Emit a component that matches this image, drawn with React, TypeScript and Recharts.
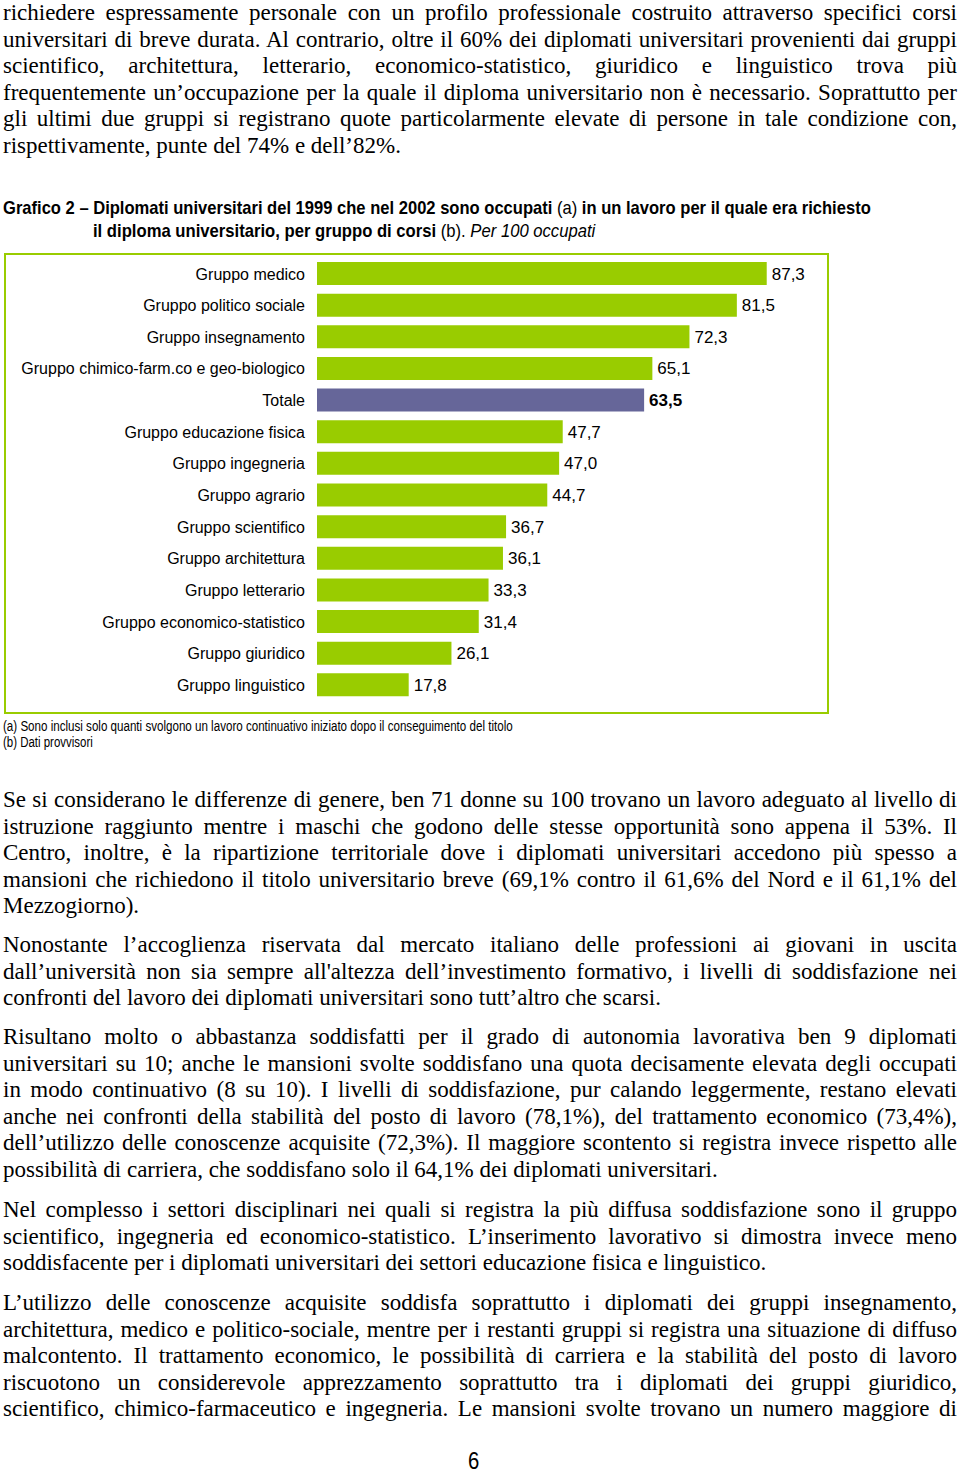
import { useLayoutEffect, useRef, useState } from 'react';
import { BarChart, Bar, XAxis, YAxis, Cell, LabelList } from 'recharts';

// Grafico 2 - diplomati occupati in un lavoro che richiedeva il diploma, per 100 occupati
const categories = [
  'Gruppo medico',
  'Gruppo politico sociale',
  'Gruppo insegnamento',
  'Gruppo chimico-farm.co e geo-biologico',
  'Totale',
  'Gruppo educazione fisica',
  'Gruppo ingegneria',
  'Gruppo agrario',
  'Gruppo scientifico',
  'Gruppo architettura',
  'Gruppo letterario',
  'Gruppo economico-statistico',
  'Gruppo giuridico',
  'Gruppo linguistico',
];
const values = [87.3, 81.5, 72.3, 65.1, 63.5, 47.7, 47.0, 44.7, 36.7, 36.1, 33.3, 31.4, 26.1, 17.8];
const totalName = 'Totale';

const GREEN = '#99CC00';
const PURPLE = '#666699';
const sans = '"Liberation Sans", Arial, sans-serif';
const serif = '"Liberation Serif", "Times New Roman", serif';

const para1 = [
  'richiedere espressamente personale con un profilo professionale costruito attraverso specifici corsi',
  'universitari di breve durata. Al contrario, oltre il 60% dei diplomati universitari provenienti dai gruppi',
  'scientifico, architettura, letterario, economico-statistico, giuridico e linguistico trova più',
  'frequentemente un’occupazione per la quale il diploma universitario non è necessario. Soprattutto per',
  'gli ultimi due gruppi si registrano quote particolarmente elevate di persone in tale condizione con,',
  'rispettivamente, punte del 74% e dell’82%.',
];
const para2 = [
  'Se si considerano le differenze di genere, ben 71 donne su 100 trovano un lavoro adeguato al livello di',
  'istruzione raggiunto mentre i maschi che godono delle stesse opportunità sono appena il 53%. Il',
  'Centro, inoltre, è la ripartizione territoriale dove i diplomati universitari accedono più spesso a',
  'mansioni che richiedono il titolo universitario breve (69,1% contro il 61,6% del Nord e il 61,1% del',
  'Mezzogiorno).',
];
const para3 = [
  'Nonostante l’accoglienza riservata dal mercato italiano delle professioni ai giovani in uscita',
  'dall’università non sia sempre all\'altezza dell’investimento formativo, i livelli di soddisfazione nei',
  'confronti del lavoro dei diplomati universitari sono tutt’altro che scarsi.',
];
const para4 = [
  'Risultano molto o abbastanza soddisfatti per il grado di autonomia lavorativa ben 9 diplomati',
  'universitari su 10; anche le mansioni svolte soddisfano una quota decisamente elevata degli occupati',
  'in modo continuativo (8 su 10). I livelli di soddisfazione, pur calando leggermente, restano elevati',
  'anche nei confronti della stabilità del posto di lavoro (78,1%), del trattamento economico (73,4%),',
  'dell’utilizzo delle conoscenze acquisite (72,3%). Il maggiore scontento si registra invece rispetto alle',
  'possibilità di carriera, che soddisfano solo il 64,1% dei diplomati universitari.',
];
const para5 = [
  'Nel complesso i settori disciplinari nei quali si registra la più diffusa soddisfazione sono il gruppo',
  'scientifico, ingegneria ed economico-statistico. L’inserimento lavorativo si dimostra invece meno',
  'soddisfacente per i diplomati universitari dei settori educazione fisica e linguistico.',
];
const para6 = [
  'L’utilizzo delle conoscenze acquisite soddisfa soprattutto i diplomati dei gruppi insegnamento,',
  'architettura, medico e politico-sociale, mentre per i restanti gruppi si registra una situazione di diffuso',
  'malcontento. Il trattamento economico, le possibilità di carriera e la stabilità del posto di lavoro',
  'riscuotono un considerevole apprezzamento soprattutto tra i diplomati dei gruppi giuridico,',
  'scientifico, chimico-farmaceutico e ingegneria. Le mansioni svolte trovano un numero maggiore di',
];

const data = categories.map((name, i) => ({ name, value: values[i] }));

// squeezes a line horizontally to a given width (narrow font look)
const FitLine = ({ width, style, children }: any) => {
  const ref = useRef<HTMLSpanElement>(null);
  const [k, setK] = useState(1);
  useLayoutEffect(() => {
    if (ref.current) setK(width / ref.current.offsetWidth);
  }, [width]);
  return (
    <div style={{ position: 'absolute', whiteSpace: 'nowrap', ...style }}>
      <span ref={ref} style={{ display: 'inline-block', transform: `scaleX(${k})`, transformOrigin: 'left center' }}>
        {children}
      </span>
    </div>
  );
};

const Para = ({ lines, top, justifyLast = false }: any) => (
  <div style={{ position: 'absolute', left: 3, top, width: 954, fontFamily: serif, fontSize: 23, lineHeight: '26.6px', color: '#000' }}>
    {lines.map((l: string, i: number) => {
      const last = i === lines.length - 1 && !justifyLast;
      return (
        <div key={i} style={{ textAlign: last ? 'left' : 'justify', textAlignLast: last ? 'left' : 'justify' }}>
          {l}
        </div>
      );
    })}
  </div>
);

const ValueLabel = (props: any) => {
  const { x, y, width, height, value, index } = props;
  const bold = categories[index] === totalName;
  return (
    <text
      x={x + width + 5}
      y={y + height / 2}
      dy="0.355em"
      fontSize={17}
      fontFamily={sans}
      fontWeight={bold ? 'bold' : 'normal'}
      fill="#000"
    >
      {Number(value).toFixed(1).replace('.', ',')}
    </text>
  );
};

export default function App() {
  return (
    <div style={{ position: 'absolute', left: 0, top: 0, width: 960, height: 1476, background: '#fff', overflow: 'hidden' }}>
      <Para lines={para1} top={0} />

      <FitLine width={868} style={{ left: 3, top: 196, fontFamily: sans, fontSize: 19, lineHeight: '23px', fontWeight: 'bold' }}>
        Grafico 2 – Diplomati universitari del 1999 che nel 2002 sono occupati <span style={{ fontWeight: 'normal' }}>(a)</span> in un lavoro per il quale era richiesto
      </FitLine>
      <FitLine width={502} style={{ left: 93, top: 219, fontFamily: sans, fontSize: 19, lineHeight: '23px', fontWeight: 'bold' }}>
        il diploma universitario, per gruppo di corsi <span style={{ fontWeight: 'normal' }}>(b). </span>
        <span style={{ fontWeight: 'normal', fontStyle: 'italic' }}>Per 100 occupati</span>
      </FitLine>

      <div style={{ position: 'absolute', left: 4, top: 253, width: 825, height: 461, border: `2px solid ${GREEN}`, boxSizing: 'border-box' }}>
        <BarChart width={821} height={457} data={data} layout="vertical" margin={{ top: 3, right: 0, bottom: 11, left: 0 }} barSize={23}>
          <XAxis type="number" domain={[0, 99]} hide allowDataOverflow />
          <YAxis
            type="category"
            dataKey="name"
            width={311}
            interval={0}
            tickLine={false}
            axisLine={false}
            tickSize={0}
            tickMargin={12}
            tick={{ fill: '#000', fontSize: 16, fontFamily: sans }}
          />
          <Bar dataKey="value" isAnimationActive={false}>
            {data.map((d, i) => (
              <Cell key={i} fill={d.name === totalName ? PURPLE : GREEN} />
            ))}
            <LabelList dataKey="value" content={<ValueLabel />} />
          </Bar>
        </BarChart>
      </div>

      <FitLine width={510} style={{ left: 3, top: 718, fontFamily: sans, fontSize: 14, lineHeight: '16px' }}>
        (a) Sono inclusi solo quanti svolgono un lavoro continuativo iniziato dopo il conseguimento del titolo
      </FitLine>
      <FitLine width={90} style={{ left: 3, top: 734, fontFamily: sans, fontSize: 14, lineHeight: '16px' }}>
        (b) Dati provvisori
      </FitLine>

      <Para lines={para2} top={787} />
      <Para lines={para3} top={932} />
      <Para lines={para4} top={1024} />
      <Para lines={para5} top={1197} />
      <Para lines={para6} top={1290} justifyLast />

      <FitLine width={11} style={{ left: 468, top: 1449, fontFamily: sans, fontSize: 24, lineHeight: '24px' }}>
        6
      </FitLine>
    </div>
  );
}
